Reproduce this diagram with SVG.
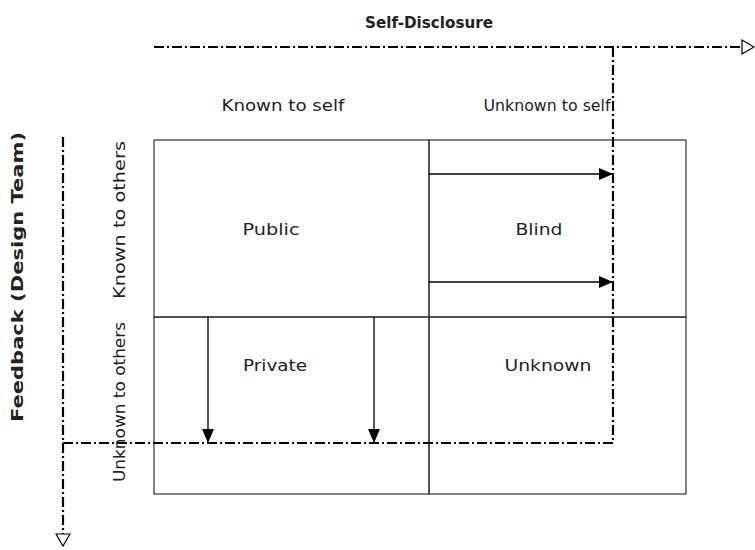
<svg xmlns="http://www.w3.org/2000/svg" width="755" height="550" viewBox="0 0 755 550">
<style>
.t{font-family:"DejaVu Sans","Liberation Sans",sans-serif;font-size:16px;fill:#222;text-anchor:middle}
.b{font-weight:bold;font-size:15px}
.cell{fill:none;stroke:#333;stroke-width:1.2}
.dd{fill:none;stroke:#000;stroke-width:2.2;stroke-dasharray:10 3 2 3}
.ar{fill:none;stroke:#000;stroke-width:1.3}
</style>
<defs>
<marker id="open" markerWidth="14" markerHeight="16" refX="1" refY="8" orient="auto" markerUnits="userSpaceOnUse">
<path d="M1,1 L13,8 L1,15 Z" fill="#fff" stroke="#000" stroke-width="1.2"/>
</marker>
<marker id="fill" markerWidth="14" markerHeight="12" refX="14" refY="6" orient="auto" markerUnits="userSpaceOnUse">
<path d="M0,0 L14,6 L0,12 Z" fill="#000"/>
</marker>
</defs>
<rect width="755" height="550" fill="#fff"/>
<g id="public"><rect class="cell" x="154" y="140" width="275" height="177"/><text class="t" x="271" y="235" textLength="57" lengthAdjust="spacingAndGlyphs">Public</text></g>
<g id="blind"><rect class="cell" x="429" y="140" width="257" height="177"/><text class="t" x="539" y="235" textLength="47" lengthAdjust="spacingAndGlyphs">Blind</text></g>
<g id="private"><rect class="cell" x="154" y="317" width="275" height="177"/><text class="t" x="275" y="371" textLength="64" lengthAdjust="spacingAndGlyphs">Private</text></g>
<g id="unknown"><rect class="cell" x="429" y="317" width="257" height="177"/><text class="t" x="548" y="371" textLength="87" lengthAdjust="spacingAndGlyphs">Unknown</text></g>
<g id="labels">
<text class="t b" x="429" y="28" textLength="128" lengthAdjust="spacingAndGlyphs">Self-Disclosure</text>
<text class="t" x="283" y="111" textLength="123" lengthAdjust="spacingAndGlyphs">Known to self</text>
<text class="t" x="547" y="111" textLength="127" lengthAdjust="spacingAndGlyphs">Unknown to self</text>
<text class="t" transform="translate(125,220) rotate(-90)" textLength="158" lengthAdjust="spacingAndGlyphs">Known to others</text>
<text class="t" transform="translate(125,402) rotate(-90)" textLength="160" lengthAdjust="spacingAndGlyphs">Unknown to others</text>
<text class="t b" transform="translate(23,277) rotate(-90)" textLength="290" lengthAdjust="spacingAndGlyphs">Feedback (Design Team)</text>
</g>
<g id="connectors">
<path class="dd" d="M154,47 H742" marker-end="url(#open)"/>
<path class="dd" d="M63,137 V534" marker-end="url(#open)"/>
<path class="dd" d="M613,47 V443 H63"/>
<path class="ar" d="M429,174 H613" marker-end="url(#fill)"/>
<path class="ar" d="M429,282 H613" marker-end="url(#fill)"/>
<path class="ar" d="M208,317 V443" marker-end="url(#fill)"/>
<path class="ar" d="M374,317 V443" marker-end="url(#fill)"/>
</g>
</svg>
